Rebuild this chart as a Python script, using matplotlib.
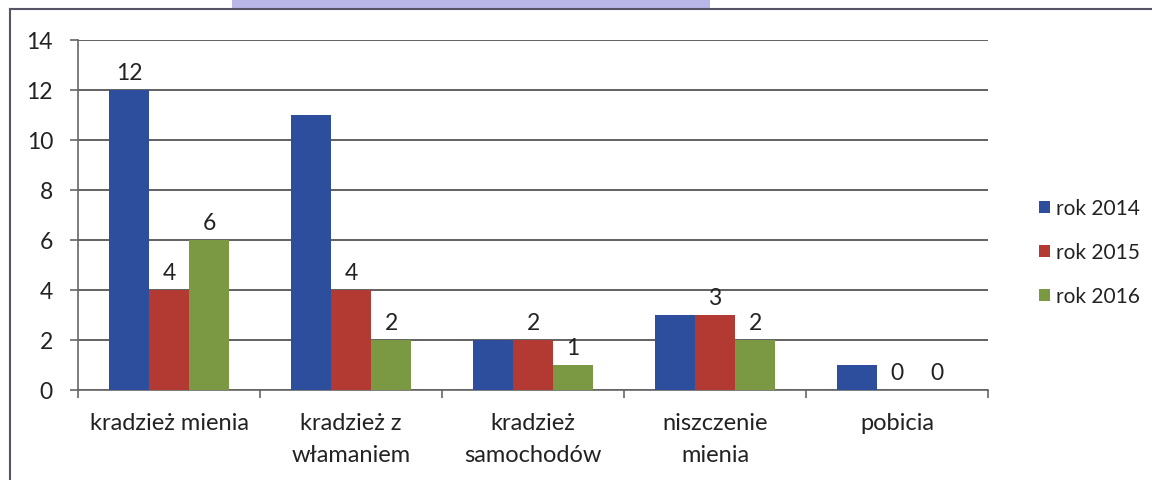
import numpy as np
import matplotlib.pyplot as plt
from matplotlib.patches import Rectangle
from matplotlib.lines import Line2D

# Data
categories = ["kradzież mienia", "kradzież z\nwłamaniem", "kradzież\nsamochodów",
              "niszczenie\nmienia", "pobicia"]
series_names = ["rok 2014", "rok 2015", "rok 2016"]
v2014 = [12, 11, 2, 3, 1]
v2015 = [4, 4, 2, 3, 0]
v2016 = [6, 2, 1, 2, 0]
# which bars carry a value label (as in the original)
lab2014 = [True, False, False, False, False]
lab2015 = [True, True, True, True, True]
lab2016 = [True, True, True, True, True]

colors = ["#2D4E9C", "#B33A33", "#7B9842"]
values = [v2014, v2015, v2016]
labels_on = [lab2014, lab2015, lab2016]

plt.rcParams['font.family'] = ['Lato', 'DejaVu Sans']

fig = plt.figure(figsize=(11.52, 4.81), dpi=100)
fig.patch.set_facecolor("white")
ax = fig.add_axes([78 / 1152, 1 - 391 / 481, (988 - 78) / 1152, (391 - 41) / 481])

x = np.arange(len(categories))
w = 0.22
for i, (vals, col) in enumerate(zip(values, colors)):
    pos = x + (i - 1) * w
    ax.bar(pos, vals, width=w, color=col, label=series_names[i], zorder=3)
    for p, v, on in zip(pos, vals, labels_on[i]):
        if on:
            ax.text(p, v + 0.28, str(v), ha="center", va="bottom", fontsize=16.5,
                    color="#222222", zorder=4)

ax.set_xlim(-0.5, len(categories) - 0.5)
ax.set_ylim(0, 14)
ax.set_yticks(range(0, 15, 2))
ax.yaxis.grid(True, color="#555555", linewidth=1.3, zorder=0)
ax.set_axisbelow(True)

# category ticks at the boundaries, labels in the middle
ax.set_xticks(np.arange(-0.5, len(categories), 1.0))
ax.set_xticklabels([])
ax.set_xticks(x, minor=True)
ax.set_xticklabels(categories, minor=True, fontsize=17, color="#222222", linespacing=1.65)
ax.tick_params(axis="x", which="minor", length=0, pad=16)
ax.tick_params(axis="x", which="major", length=6, color="#666666", width=1.2)
ax.tick_params(axis="y", length=6, color="#666666", width=1.2, labelsize=16.5,
               labelcolor="#222222", pad=12)

for s in ["top", "right"]:
    ax.spines[s].set_visible(False)
ax.spines["left"].set_color("#666666")
ax.spines["bottom"].set_color("#666666")
ax.spines["left"].set_linewidth(1.2)
ax.spines["bottom"].set_linewidth(1.2)

leg = ax.legend(loc="center left", bbox_to_anchor=(1.035, 0.393), frameon=False,
                fontsize=15, handlelength=0.55, handleheight=0.55, handletextpad=0.3,
                labelspacing=1.15)
for t in leg.get_texts():
    t.set_color("#222222")

# outer frame of the scanned chart
fig.add_artist(Line2D([10 / 1152, 1.0], [1 - 10 / 481, 1 - 10 / 481],
                      color="#555566", linewidth=1.5, transform=fig.transFigure))
fig.add_artist(Line2D([10 / 1152, 10 / 1152], [0, 1 - 10 / 481],
                      color="#555566", linewidth=1.5, transform=fig.transFigure))
# bit of the header showing above the frame
fig.add_artist(Rectangle((232 / 1152, 1 - 10 / 481), (710 - 232) / 1152, 10 / 481,
                         facecolor="#B8B6E6", edgecolor="none", transform=fig.transFigure))

fig.savefig("out.png", dpi=100)
